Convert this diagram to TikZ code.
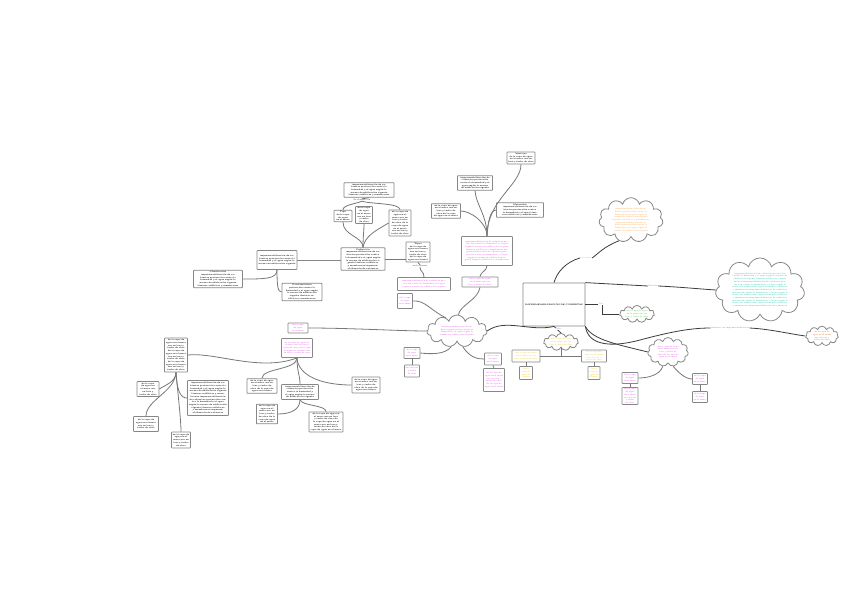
\documentclass[tikz,border=0pt]{standalone}
\usetikzlibrary{shapes.symbols}
\definecolor{pk}{RGB}{225,60,230}
\definecolor{yl}{RGB}{240,195,0}
\definecolor{orl}{RGB}{255,150,40}
\definecolor{cy}{RGB}{0,190,160}
\definecolor{gr}{RGB}{70,190,60}
\definecolor{dor}{RGB}{225,95,20}
\definecolor{bl}{RGB}{70,140,230}
\definecolor{brd}{RGB}{135,135,135}
\definecolor{lnk}{RGB}{120,120,120}
\definecolor{dlnk}{RGB}{60,60,60}
\newcommand\fA{impermeabilización de cubiertas }
\newcommand\fB{protección contra la humedad y el agua }
\newcommand\fC{según la norma de edificación vigente }
\newcommand\fD{láminas asfálticas y membranas }
\newcommand\sA{de la capa de agua en el muro }
\newcommand\sB{uso en losa y techo de obra }
\tikzset{
 bx/.style={draw=brd, line width=0.8pt, fill=white, rounded corners=0.6pt, inner sep=1pt, align=center, font=\fontsize{2}{2.7}\selectfont\bfseries},
 pbx/.style={bx, text=pk, font=\fontsize{2}{2.7}\selectfont},
 ybx/.style={bx, text=yl, font=\fontsize{2}{2.7}\selectfont},
 cl/.style={cloud, cloud puffs=11, cloud ignores aspect, draw=brd, line width=0.8pt, fill=white, inner sep=0pt, align=center, font=\fontsize{2}{2.7}\selectfont},
 cn/.style={draw=lnk, line width=0.8pt},
 dk/.style={draw=dlnk, line width=0.8pt},
 lb/.style={font=\fontsize{2}{2.4}\selectfont, inner sep=0.3pt, fill=white, align=center},
}
\begin{document}
\begin{tikzpicture}[x=1pt,y=-1pt]
\useasboundingbox[fill=white] (0,0) rectangle (848,599);

% central
\node[bx, minimum width=62pt, minimum height=43pt, text width=58pt, font=\fontsize{2}{2.7}\selectfont\bfseries] (cen) at (554,304.5) {IMPERMEABILIZACIÓN DE CUBIERTAS};

% top cluster
\node[bx, minimum width=50pt, minimum height=14pt, text width=47pt] (t1) at (369,190) {\fA\fB\fC\fD};
\node[lb] (t1l) at (362,200) {Se clasifica en};
\node[bx, minimum width=18pt, minimum height=10pt, text width=16pt] (t2) at (343,216) {Tipo\\ \sA};
\node[bx, minimum width=17pt, minimum height=12pt, text width=15pt] (t3) at (364,215) {\sA\sB};
\node[bx, minimum width=22pt, minimum height=26pt, text width=20pt] (t4) at (400,223) {\sA\sB\sA\sB};
\node[bx, minimum width=44pt, minimum height=18pt, text width=41pt] (t5) at (363,259) {Definición\\ \fA\fB\fC\fD\fA};
\node[bx, minimum width=24pt, minimum height=18pt, text width=22pt] (t6) at (418,252) {Tipos\\ \sA\sB\sA};
\node[lb] (t6l) at (420,266) {en la norma};

% left cluster
\node[bx, minimum width=40pt, minimum height=19pt, text width=37pt] (l1) at (277,260) {\fA\fB\fC};
\node[bx, minimum width=49pt, minimum height=14pt, text width=46pt] (l2) at (218,279) {Clasificación\\ \fA\fB\fC\fD};
\node[bx, minimum width=40pt, minimum height=16pt, text width=37pt] (l3) at (302,292) {Características\\ \fB\fC\fD};

% top-right cluster
\node[bx, minimum width=28pt, minimum height=12pt, text width=26pt] (r1) at (521,158) {Ventajas\\ \sA\sB};
\node[bx, minimum width=35pt, minimum height=14pt, text width=33pt] (r2) at (475,183) {\fA\fB\fC};
\node[bx, minimum width=29pt, minimum height=13pt, text width=27pt] (r3) at (446,211) {\sA\sB\sA};
\node[bx, minimum width=47pt, minimum height=11pt, text width=45pt] (r4) at (520,210) {Materiales\\ \fA\fB\fD};
\node[pbx, minimum width=51pt, minimum height=29pt, text width=48pt] (r5) at (487,251) {\fA\fB\fC\fD\fA\fB\fC\fD};

% pink cloud cluster
\node[pbx, minimum width=53pt, minimum height=13pt, text width=50pt] (p1) at (424,284) {\fA\fB\fC};
\node[pbx, minimum width=36pt, minimum height=10pt, text width=34pt] (p2) at (480,282) {\sA\sB};
\node[pbx, minimum width=15pt, minimum height=15pt, text width=13pt] (p3) at (405,301) {\sA};
\node[cl, minimum width=60pt, minimum height=32pt, text width=42pt, text=pk] (c1) at (457,331) {\fA\fB\fC};
\node[pbx, minimum width=16pt, minimum height=11pt, text width=14pt] (p4) at (412,353) {\sA};
\node[pbx, minimum width=15pt, minimum height=12pt, text width=13pt] (p5) at (412,371) {\sB};
\node[pbx, minimum width=17pt, minimum height=12pt, text width=15pt] (p6) at (493,359) {\sA};
\node[pbx, minimum width=21pt, minimum height=23pt, text width=19pt] (p7) at (494,380) {\sA\sB\sA};
\node[pbx, minimum width=20pt, minimum height=10pt, text width=18pt] (pA) at (298,328) {\sA};
\node[pbx, minimum width=31pt, minimum height=19pt, text width=29pt] (pB) at (297,348) {\sA\sB\sA\sB};

% middle-left black
\node[bx, minimum width=30pt, minimum height=12pt, text width=28pt] (m1) at (262,386) {\sA\sB\sA};
\node[bx, minimum width=37pt, minimum height=15pt, text width=35pt] (m2) at (300,392) {\fA\fB\fC};
\node[bx, minimum width=28pt, minimum height=16pt, text width=26pt] (m3) at (366,385) {\sA\sB\sA};
\node[bx, minimum width=21pt, minimum height=17pt, text width=19pt] (m4) at (267,414) {\sA\sB\sA};
\node[bx, minimum width=34pt, minimum height=19pt, text width=32pt] (m5) at (326,422) {\sA\sB\sA\sB\sA};

% bottom-left
\node[bx, minimum width=23pt, minimum height=34pt, text width=21pt] (b1) at (176,355) {\sA\sB\sA\sB\sA\sB};
\node[bx, minimum width=22pt, minimum height=15pt, text width=20pt] (b2) at (148,389) {\sA\sB};
\node[bx, minimum width=25pt, minimum height=15pt, text width=23pt] (b3) at (146,424) {\sA\sB};
\node[bx, minimum width=19pt, minimum height=16pt, text width=17pt] (b4) at (181,440) {\sA\sB};
\node[bx, minimum width=41pt, minimum height=35pt, text width=38pt] (b5) at (208,398) {\fA\fB\fC\fD\fA\fB\fC\fD\fA};

% yellow
\node[cl, minimum width=34pt, minimum height=16pt, text width=24pt, text=yl] (yc) at (561,342) {\sA\sB};
\node[ybx, minimum width=28pt, minimum height=12pt, text width=26pt] (y1) at (526,356) {\sA\sB};
\node[ybx, minimum width=25pt, minimum height=12pt, text width=23pt] (y2) at (594,356) {\sA\sB};
\node[ybx, minimum width=13pt, minimum height=13pt, text width=11pt] (y3) at (526,373) {\sA};
\node[ybx, minimum width=12pt, minimum height=13pt, text width=10pt] (y4) at (594,373) {\sA};

% right pink
\node[cl, minimum width=39pt, minimum height=29pt, text width=27pt, text=pk] (rc) at (668,352) {\sA\sB\sA};
\node[pbx, minimum width=16pt, minimum height=11pt, text width=14pt] (q1) at (630,378) {\sA};
\node[pbx, minimum width=16pt, minimum height=17pt, text width=14pt] (q2) at (630,396) {\sA\sB};
\node[pbx, minimum width=15pt, minimum height=11pt, text width=13pt] (q3) at (700,379) {\sA};
\node[pbx, minimum width=15pt, minimum height=11pt, text width=13pt] (q4) at (700,397) {\sA};

% clouds
\node[cl, minimum width=58pt, minimum height=36pt, text width=42pt, text=orl] (oc) at (631,220) {\fA\fB\fC\\ \fD\\ \fA\fB\fC};
\node[cl, minimum width=76pt, minimum height=64pt, text width=58pt, text=cy] (cc) at (760,290) {\fA\fB\fC\fD\fA\fB\fC\fD\fA\fB\fC\fD\fA\fB\fC\fD\fA};
\node[cl, minimum width=33pt, minimum height=17pt, text width=24pt, text=gr] (gc) at (637,314) {\sA\sB};
\node[cl, minimum width=31pt, minimum height=18pt, text width=22pt, text=dor] (ro) at (822,336) {\sA\sB};

% ===== connectors =====
% top cluster
\draw[cn] (t5.north) .. controls (363,236) and (343,236) .. (t2.south);
\draw[cn] (t5.north) .. controls (363,236) and (364,232) .. (t3.south);
\draw[cn] (t5.north) .. controls (365,236) and (375,231) .. (t4.west);
\draw[cn] (t1.south) -- (t1l.north);
\draw[cn] (t1l.south) .. controls (355,204) and (343,205) .. (t2.north);
\draw[cn] (t1l.south) .. controls (370,204) and (400,203) .. (t4.north);
\draw[cn] (t5.east) -- (t5.east -| t6.west);
\draw[draw=brd, line width=0.5pt] (l1.east) -- (l1.east -| t5.west);
\draw[cn] (t6.south) -- (t6l.north);
\draw[cn] (t6l.south) .. controls (420,272) and (424,271) .. (p1.north);
% left cluster
\draw[cn] (l1.south) .. controls (277,279) and (265,279) .. (l2.east);
\draw[cn] (l1.south) .. controls (277,287) and (278,292) .. (l3.west);
% top-right
\draw[cn] (r5.north) .. controls (487,222) and (470,211) .. (r3.east);
\draw[cn] (r5.north) .. controls (487,215) and (476,205) .. (r2.south);
\draw[cn] (r5.north) .. controls (487,200) and (521,185) .. (r1.south);
\draw[cn] (r5.north) .. controls (488,222) and (490,210) .. (r4.west);
\draw[cn] (r5.south) .. controls (487,271) and (480,272) .. (p2.north);
% pink cloud
\draw[cn] (p3.east) .. controls (425,300) and (430,310) .. (c1.130);
\draw[cn] (p2.south) .. controls (478,300) and (460,305) .. (c1.85);
\draw[cn] (c1.250) .. controls (445,355) and (430,354) .. (p4.east);
\draw[cn] (p4.south) -- (p5.north);
\draw[cn] (c1.290) .. controls (470,358) and (478,359) .. (p6.west);
\draw[cn] (p6.south) -- (p7.north);
\draw[cn] (pA.east) .. controls (350,328) and (400,331) .. (c1.west);
\draw[dk] (c1.east) .. controls (505,318) and (530,332) .. (cen.south);
% pB fan
\draw[cn] (pB.south) .. controls (297,370) and (262,368) .. (m1.north);
\draw[cn] (pB.south) .. controls (297,372) and (300,375) .. (m2.north);
\draw[cn] (pB.south) .. controls (298,375) and (320,385) .. (m3.west);
\draw[cn] (b1.east) .. controls (215,352) and (260,372) .. (pB.south);
\draw[cn] (m2.south) .. controls (300,410) and (290,414) .. (m4.east);
\draw[cn] (m2.south) .. controls (302,406) and (326,405) .. (m5.north);
% b1 fan
\draw[cn] (b1.south) .. controls (176,382) and (165,385) .. (b2.east);
\draw[cn] (b1.south) .. controls (175,392) and (146,400) .. (b3.north);
\draw[cn] (b1.south) .. controls (178,395) and (181,420) .. (b4.north);
\draw[cn] (b1.south) .. controls (177,390) and (180,398) .. (b5.west);
% yellow
\draw[dk] (cen.south) -- (yc.north);
\node[lb, text=bl] (blab) at (558,329) {Tipos};
\draw[cn] (yc.south) -- (yc.south |- y1.east);
\draw[cn] (y1.east) -- (y2.west);
\draw[cn] (y1.south) -- (y3.north);
\draw[cn] (y2.south) -- (y4.north);
% right pink
\draw[dk] (cen.south east) .. controls (592,340) and (620,345) .. (rc.west);
\draw[cn] (rc.250) .. controls (660,375) and (648,378) .. (q1.east);
\draw[cn] (rc.290) .. controls (678,372) and (685,379) .. (q3.west);
\draw[cn] (q1.south) -- (q2.north);
\draw[cn] (q3.south) -- (q4.north);
% to clouds
\node[lb, text=orl] (ol) at (586,258) {Concepto};
\draw[dk] (cen.north) .. controls (557,272) and (566,262) .. (ol.west);
\draw[dk] (ol.east) .. controls (598,254) and (603,247) .. (oc.240);
\node[lb, text=cy] (cl) at (653,286) {Función};
\draw[dk] (cen.north east) .. controls (610,284) and (630,285) .. (cl.west);
\draw[dk] (cl.east) .. controls (680,287) and (700,289) .. (cc.west);
\draw[dk] (cen.east) -- ++(17,0) |- (gc.west);
\node[lb, text=gr] (gl) at (601,304) {Uso};
\node[lb, text=dor] (dl) at (730,328) {Sistemas de impermeabilización};
\draw[dk] (cen.south east) .. controls (588,345) and (610,348) .. (640,340) .. controls (670,332) and (690,328) .. (dl.west);
\draw[dk] (dl.east) .. controls (770,329) and (790,334) .. (ro.west);
\end{tikzpicture}
\end{document}
